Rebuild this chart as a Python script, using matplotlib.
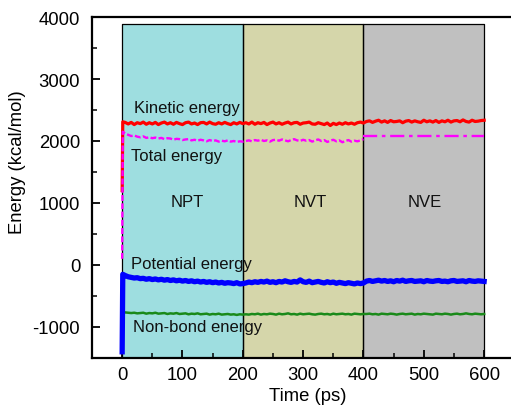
import matplotlib
matplotlib.use("Agg")
import matplotlib.pyplot as plt
from matplotlib.ticker import MultipleLocator

plt.rcParams['font.family'] = ['Liberation Sans', 'DejaVu Sans']
plt.rcParams['axes.unicode_minus'] = False

# ---- data ----
time_ps = [0, 1] + list(range(5, 601, 5))

kinetic = [1200, 2310,
           2300, 2275, 2300, 2265, 2295, 2280, 2305, 2270, 2295, 2275, 2300, 2265, 2290, 2305, 2275, 2295, 2270, 2300, 2280, 2265,
           2295, 2305, 2275, 2290, 2265, 2295, 2300, 2275, 2305, 2280, 2270, 2295, 2275, 2300, 2280, 2265, 2295, 2275, 2300, 2280,
           2295, 2275, 2305, 2270, 2295, 2280, 2300, 2265, 2290, 2305, 2275, 2295, 2270, 2290, 2305, 2275, 2295, 2300, 2270, 2290,
           2295, 2305, 2275, 2270, 2295, 2280, 2265, 2290, 2250, 2285, 2265, 2290, 2270, 2295, 2275, 2290, 2270, 2295, 2305, 2290,
           2315, 2325, 2300, 2320, 2335, 2305, 2325, 2300, 2330, 2310, 2315, 2325, 2295, 2320, 2330, 2305, 2325, 2310, 2300, 2335,
           2310, 2325, 2305, 2330, 2300, 2325, 2310, 2335, 2305, 2325, 2330, 2310, 2340, 2315, 2305, 2335, 2315, 2320, 2330, 2335]

total_npt_nvt = [100, 2150,
                 2120, 2100, 2080, 2090, 2070, 2060, 2075, 2050, 2060, 2045, 2055, 2040, 2050, 2030, 2045, 2040, 2020, 2035, 2030, 2015,
                 2025, 2030, 2010, 2020, 2005, 2020, 2010, 1995, 2015, 2000, 2010, 1990, 2005, 1995, 2010, 1990, 2000, 1985, 1995, 1990,
                 2000, 2010, 1995, 2015, 2005, 2020, 2000, 2010, 1990, 2015, 2020, 2005, 2025, 2010, 1995, 2015, 2030, 2010, 2000, 2020,
                 2005, 2015, 1990, 2010, 2025, 2000, 2015, 1985, 2005, 2020, 1995, 2010, 1980, 2000, 2015, 1990, 2005, 1995, 2010, 2030]
total_nve_time = [400, 600]
total_nve = [2075, 2075]

potential = [-1400, -150,
             -170, -190, -200, -210, -205, -220, -215, -230, -220, -235, -225, -240, -230, -245, -235, -250, -240, -255, -245, -260,
             -250, -265, -255, -270, -260, -275, -265, -280, -270, -285, -275, -290, -280, -295, -285, -290, -300, -285, -305, -300,
             -290, -275, -285, -270, -280, -265, -275, -260, -280, -270, -285, -265, -275, -255, -270, -280, -265, -275, -240, -270,
             -280, -260, -285, -275, -265, -280, -290, -270, -285, -275, -295, -280, -290, -300, -285, -295, -305, -290, -300, -290,
             -260, -250, -265, -255, -245, -260, -250, -265, -255, -270, -250, -260, -245, -265, -255, -250, -265, -260, -255, -270,
             -250, -260, -265, -255, -250, -265, -260, -270, -255, -250, -265, -260, -255, -270, -250, -260, -265, -255, -260, -265]

nonbond = [-740, -760,
           -765, -770, -775, -770, -780, -775, -770, -785, -775, -780, -770, -785, -780, -775, -790, -780, -785, -775, -790, -785,
           -780, -795, -785, -790, -780, -795, -790, -785, -800, -790, -795, -785, -800, -795, -790, -800, -795, -805, -795, -800,
           -795, -800, -790, -795, -785, -800, -790, -795, -785, -790, -800, -785, -795, -790, -780, -795, -790, -800, -785, -795,
           -790, -785, -795, -800, -790, -785, -795, -790, -800, -785, -795, -790, -785, -795, -790, -800, -785, -790, -795, -790,
           -790, -785, -795, -790, -800, -785, -790, -795, -785, -790, -800, -790, -785, -795, -790, -785, -800, -790, -795, -785,
           -790, -795, -800, -785, -790, -795, -785, -790, -800, -790, -785, -795, -790, -780, -790, -795, -785, -790, -795, -790]

ensembles = ['NPT', 'NVT', 'NVE']
ensemble_bounds = [(0, 200), (200, 400), (400, 600)]
ensemble_colors = ['#9EDEE0', '#D5D6AA', '#C0C0C0']

# ---- figure ----
fig = plt.figure(figsize=(5.11, 4.10), dpi=100)
ax = fig.add_axes([92/511, 1 - 359/410, 422.3/511, (359 - 18)/410])

shade_top = 3880
for (x0, x1), c in zip(ensemble_bounds, ensemble_colors):
    ax.fill_between([x0, x1], -1500, shade_top, color=c, zorder=0, linewidth=0)
    ax.plot([x0, x1, x1, x0, x0], [-1500, -1500, shade_top, shade_top, -1500],
            color='black', lw=0.9, zorder=1)

ax.plot(time_ps, nonbond, color='#1A8A1A', lw=1.8, zorder=3)
ax.plot(time_ps, potential, color='#0000FF', lw=3.8, zorder=3)
ax.plot(time_ps, kinetic, color='#FF0000', lw=2.3, zorder=4)
n_nvt = len([t for t in time_ps if t <= 400])
ax.plot(time_ps[:n_nvt], total_npt_nvt, color='#FF00FF', lw=1.7, ls=(0, (2.5, 1)), zorder=5)
ax.plot(total_nve_time, total_nve, color='#FF00FF', lw=1.7, ls=(0, (6, 2, 1.5, 2)), zorder=5)

fs_lab = 12
ax.text(108, 2540, 'Kinetic energy', ha='center', va='center', fontsize=fs_lab, color='#111111', zorder=6)
ax.text(90, 1765, 'Total energy', ha='center', va='center', fontsize=fs_lab, color='#111111', zorder=6)
ax.text(115, 30, 'Potential energy', ha='center', va='center', fontsize=fs_lab, color='#111111', zorder=6)
ax.text(125, -1000, 'Non-bond energy', ha='center', va='center', fontsize=fs_lab, color='#111111', zorder=6)
for name, x in zip(ensembles, [108, 312, 502]):
    ax.text(x, 1020, name, ha='center', va='center', fontsize=fs_lab, color='#111111', zorder=6)

ax.set_xlim(-50, 650)
ax.set_ylim(-1500, 4000)
ax.yaxis.set_major_locator(MultipleLocator(1000))
ax.yaxis.set_minor_locator(MultipleLocator(500))
ax.set_xticks([0, 100, 200, 300, 400, 500, 600])
ax.set_xticks([50, 150, 250, 350, 450, 550], minor=True)

ax.tick_params(axis='both', which='major', direction='in', length=6, width=1.3, labelsize=13.3)
ax.tick_params(axis='both', which='minor', direction='in', length=3.5, width=1.1)
ax.tick_params(axis='y', which='both', pad=8.5)
ax.tick_params(axis='x', which='both', pad=6)
ax.tick_params(top=False, right=False, which='both')

for s in ['left', 'bottom', 'top']:
    ax.spines[s].set_linewidth(1.6)
ax.spines['right'].set_visible(False)

ax.set_xlabel('Time (ps)', fontsize=13.3)
ax.set_ylabel('Energy (kcal/mol)', fontsize=13.3)
ax.xaxis.set_label_coords(0.511, -0.085)
ax.yaxis.set_label_coords(-0.157, 0.578)

fig.savefig('out.png', dpi=100)
